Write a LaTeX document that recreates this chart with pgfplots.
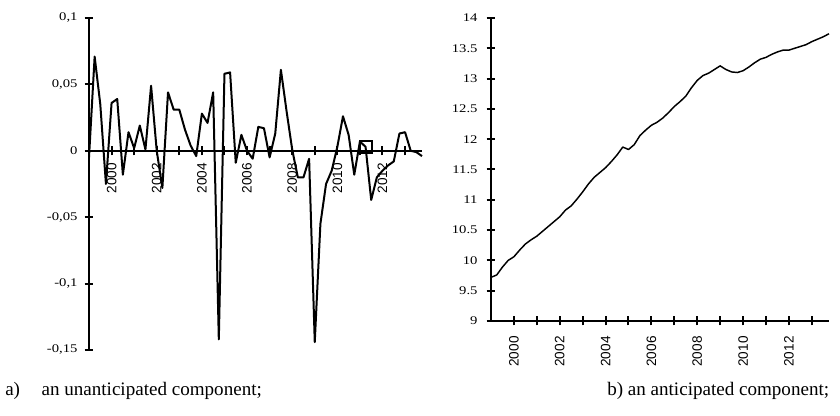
\documentclass[border=0pt]{standalone}
\usepackage{fontspec}
\setmainfont{Liberation Serif}
\newfontfamily\tickserif{Liberation Serif}
\newfontfamily\ticksans{Liberation Sans}
\usepackage{pgfplots}
\usepackage{pgfplotstable}
\pgfplotsset{compat=1.18}

\newcommand{\tyf}{\tickserif\fontsize{8.8}{10}\selectfont}
\newcommand{\txf}{\ticksans\fontsize{10.2}{11}\selectfont}

% quarterly series, 1999Q1 .. 2013Q4
\pgfplotstableread{
t u
1999.00 -0.005
1999.25 0.071
1999.50 0.035
1999.75 -0.025
2000.00 0.036
2000.25 0.039
2000.50 -0.018
2000.75 0.014
2001.00 0.002
2001.25 0.019
2001.50 0.001
2001.75 0.049
2002.00 0.000
2002.25 -0.028
2002.50 0.044
2002.75 0.031
2003.00 0.031
2003.25 0.016
2003.50 0.004
2003.75 -0.004
2004.00 0.028
2004.25 0.021
2004.50 0.044
2004.75 -0.142
2005.00 0.058
2005.25 0.059
2005.50 -0.009
2005.75 0.012
2006.00 0.000
2006.25 -0.006
2006.50 0.018
2006.75 0.017
2007.00 -0.005
2007.25 0.013
2007.50 0.061
2007.75 0.030
2008.00 0.001
2008.25 -0.020
2008.50 -0.020
2008.75 -0.006
2009.00 -0.144
2009.25 -0.055
2009.50 -0.025
2009.75 -0.015
2010.00 0.003
2010.25 0.026
2010.50 0.012
2010.75 -0.018
2011.00 0.007
2011.25 0.003
2011.50 -0.037
2011.75 -0.020
2012.00 -0.015
2012.25 -0.011
2012.50 -0.008
2012.75 0.013
2013.00 0.014
2013.25 0.000
2013.50 -0.001
2013.75 -0.004
}\unant

\pgfplotstableread{
t a
1999.00 9.72
1999.25 9.76
1999.50 9.89
1999.75 10.00
2000.00 10.06
2000.25 10.17
2000.50 10.27
2000.75 10.34
2001.00 10.40
2001.25 10.48
2001.50 10.56
2001.75 10.64
2002.00 10.72
2002.25 10.83
2002.50 10.90
2002.75 11.01
2003.00 11.13
2003.25 11.26
2003.50 11.37
2003.75 11.45
2004.00 11.53
2004.25 11.63
2004.50 11.74
2004.75 11.87
2005.00 11.83
2005.25 11.91
2005.50 12.06
2005.75 12.15
2006.00 12.23
2006.25 12.28
2006.50 12.35
2006.75 12.44
2007.00 12.54
2007.25 12.62
2007.50 12.71
2007.75 12.85
2008.00 12.97
2008.25 13.05
2008.50 13.09
2008.75 13.15
2009.00 13.21
2009.25 13.15
2009.50 13.11
2009.75 13.10
2010.00 13.13
2010.25 13.19
2010.50 13.26
2010.75 13.32
2011.00 13.35
2011.25 13.40
2011.50 13.44
2011.75 13.47
2012.00 13.47
2012.25 13.50
2012.50 13.53
2012.75 13.56
2013.00 13.61
2013.25 13.65
2013.50 13.69
2013.75 13.74
}\anti

\pgfplotsset{
  xlaxis/.style={
    scale only axis,
    anchor=south west,
    axis y line*=left,
    axis line style={black, line width=1.5pt},
    tick align=center,
    major tick length=6.75pt,
    minor tick length=6.75pt,
    tick style={black, line width=1.5pt},
    xmin=1999, xmax=2013.75,
    xtick={2000,2002,...,2012},
    minor xtick={2001,2003,...,2013},
    xticklabel={\txf\pgfmathparse{int(round(\tick))}\pgfmathresult},
    xticklabel style={rotate=90, anchor=east, fill=white, inner sep=1pt},
    yticklabel style={anchor=east, inner sep=0pt, xscale=1.25},
    clip=false,
  },
}

\begin{document}
\begin{tikzpicture}
\useasboundingbox (0,0) rectangle (630pt,312pt);

% ---- a) unanticipated component ----------------------------------------
\begin{axis}[
  xlaxis,
  at={(66.75pt,49.5pt)},
  width=249.75pt, height=249pt,
  axis x line*=middle,
  ymin=-0.15, ymax=0.1,
  ytick={-0.15,-0.1,-0.05,0,0.05,0.1},
  yticklabel={\tyf\pgfmathprintnumber[assume math mode=true, fixed,
              precision=2, use comma]{\tick}},
  yticklabel shift=5pt,
  xticklabel shift=4.5pt,
]
\addplot[black, line width=1.5pt, line join=round] table[x=t, y=u] {\unant};
\addplot[black, line width=1.5pt, only marks, mark=square, mark size=4.5pt]
  coordinates {(2011.25,0.003)};
\end{axis}

% ---- b) anticipated component ------------------------------------------
\begin{axis}[
  xlaxis,
  at={(368.25pt,71.25pt)},
  width=253.5pt, height=227.25pt,
  axis x line*=bottom,
  ymin=9, ymax=14,
  ytick={9,9.5,10,10.5,11,11.5,12,12.5,13,13.5,14},
  yticklabel={\tyf\pgfmathprintnumber[assume math mode=true, fixed,
              precision=1]{\tick}},
  yticklabel shift=6.5pt,
  xticklabel shift=7pt,
]
\addplot[black, line width=1.1pt, line join=round] table[x=t, y=a] {\anti};
\end{axis}

% ---- captions -----------------------------------------------------------
\begin{scope}[font=\fontsize{14.3}{16}\selectfont]
\node[anchor=base west, inner sep=0pt] at (3.75pt,15pt) {a)};
\node[anchor=base west, inner sep=0pt] at (31pt,15pt) {an unanticipated component;};
\node[anchor=base west, inner sep=0pt] at (455.25pt,15pt) {b) an anticipated component;};
\end{scope}
\end{tikzpicture}
\end{document}
